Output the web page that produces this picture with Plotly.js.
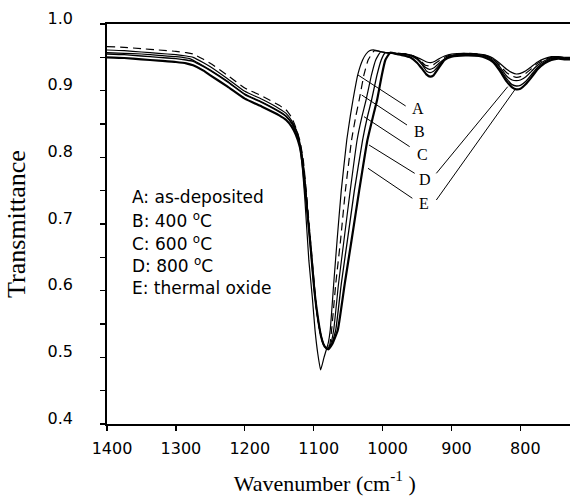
<!DOCTYPE html>
<html>
<head>
<meta charset="utf-8">
<script src="https://cdn.plot.ly/plotly-3.0.1.min.js"></script>
<style>html,body{margin:0;padding:0;background:#fff;}#chart{width:570px;height:500px;}</style>
</head>
<body>
<div id="chart"></div>
<script>
// Wavenumber (cm^-1) and transmittance for each sample
const wnA = [1400,1375,1350,1325,1300,1280,1265,1250,1225,1200,1175,1150,1140,1130,1124,1118,1113,1107,1102,1098,1094,1090,1085,1079,1076,1071,1066,1060,1052,1047,1043,1036,1029,1024,1019,1012,1000,985,970,960,950,942,936,930,924,918,910,900,880,860,850,840,830,820,812,806,800,792,784,775,765,755,745,735,728];
const tA  = [0.957,0.956,0.955,0.953,0.951,0.948,0.940,0.931,0.914,0.895,0.883,0.869,0.862,0.849,0.838,0.800,0.740,0.645,0.590,0.540,0.505,0.481,0.500,0.521,0.541,0.610,0.676,0.750,0.826,0.861,0.886,0.924,0.946,0.955,0.960,0.961,0.958,0.956,0.955,0.953,0.950,0.946,0.943,0.942,0.944,0.948,0.952,0.955,0.956,0.955,0.953,0.949,0.941,0.932,0.927,0.925,0.926,0.930,0.936,0.943,0.948,0.951,0.951,0.950,0.950];

const wnB = [1400,1375,1350,1325,1300,1285,1275,1260,1250,1225,1200,1175,1150,1140,1132,1126,1120,1115,1110,1105,1100,1096,1092,1087,1082,1077,1074,1068,1061,1054,1045,1039,1034,1027,1021,1012,1005,995,980,965,955,945,938,932,926,918,910,900,880,860,850,840,830,820,812,806,800,792,784,775,765,755,745,735,728];
const tB  = [0.966,0.965,0.963,0.961,0.959,0.957,0.955,0.947,0.941,0.923,0.904,0.892,0.878,0.871,0.860,0.845,0.825,0.795,0.740,0.680,0.620,0.575,0.545,0.522,0.514,0.518,0.541,0.610,0.676,0.750,0.826,0.861,0.886,0.924,0.946,0.960,0.959,0.957,0.956,0.955,0.952,0.945,0.938,0.937,0.939,0.945,0.950,0.954,0.956,0.955,0.953,0.948,0.938,0.927,0.922,0.920,0.921,0.926,0.933,0.941,0.947,0.950,0.951,0.949,0.949];

const wnC = [1400,1375,1350,1325,1300,1285,1275,1260,1250,1225,1200,1175,1150,1140,1132,1126,1120,1115,1110,1105,1100,1096,1091,1086,1081,1076,1071,1064,1056,1047,1037,1030,1024,1016,1010,1003,995,980,965,955,945,938,932,926,918,910,900,880,860,850,840,830,820,812,806,800,792,784,775,765,755,745,735,728];
const tC  = [0.961,0.960,0.958,0.956,0.954,0.952,0.950,0.942,0.936,0.918,0.899,0.887,0.873,0.866,0.855,0.842,0.822,0.790,0.735,0.675,0.615,0.572,0.540,0.520,0.512,0.518,0.541,0.610,0.676,0.750,0.826,0.861,0.886,0.924,0.946,0.958,0.957,0.956,0.955,0.952,0.944,0.935,0.932,0.934,0.941,0.948,0.953,0.955,0.954,0.952,0.947,0.936,0.922,0.916,0.915,0.916,0.921,0.929,0.938,0.945,0.949,0.950,0.948,0.948];

const wnD = [1400,1375,1350,1325,1300,1285,1275,1260,1250,1225,1200,1175,1150,1140,1132,1126,1120,1115,1110,1105,1100,1095,1090,1085,1080,1074,1068,1060,1051,1041,1029,1022,1016,1008,1002,996,985,970,960,950,942,936,931,926,918,910,900,880,860,850,840,830,820,812,806,800,792,784,775,765,755,745,735,728];
const tD  = [0.955,0.954,0.952,0.950,0.948,0.946,0.944,0.936,0.930,0.913,0.894,0.882,0.868,0.861,0.851,0.838,0.818,0.785,0.730,0.670,0.610,0.565,0.535,0.518,0.513,0.520,0.541,0.610,0.676,0.750,0.826,0.861,0.886,0.924,0.946,0.957,0.956,0.955,0.953,0.947,0.938,0.929,0.927,0.929,0.938,0.947,0.952,0.954,0.953,0.951,0.945,0.933,0.918,0.909,0.907,0.908,0.914,0.924,0.935,0.943,0.948,0.949,0.948,0.948];

const wnE = [1400,1375,1350,1325,1300,1285,1275,1260,1250,1225,1200,1175,1150,1140,1132,1126,1120,1115,1110,1104,1099,1094,1089,1084,1079,1073,1065,1055,1045,1034,1022,1014,1008,1001,996,989,980,970,960,950,942,936,931,926,918,910,900,880,860,850,840,830,820,812,806,800,792,784,775,765,755,745,735,728];
const tE  = [0.950,0.949,0.947,0.945,0.943,0.941,0.938,0.930,0.923,0.906,0.888,0.876,0.863,0.856,0.846,0.834,0.815,0.780,0.725,0.660,0.600,0.560,0.530,0.516,0.512,0.520,0.541,0.610,0.676,0.750,0.826,0.861,0.886,0.924,0.946,0.957,0.955,0.953,0.950,0.942,0.932,0.924,0.921,0.923,0.935,0.946,0.951,0.953,0.952,0.949,0.943,0.930,0.914,0.905,0.902,0.903,0.910,0.920,0.932,0.941,0.946,0.948,0.947,0.947];

const seriesLetters = ['A','B','C','D','E'];
const legendLines = ['A: as-deposited','B: 400 <sup>o</sup>C','C: 600 <sup>o</sup>C','D: 800 <sup>o</sup>C','E: thermal oxide'];
const xTickVals = [1400,1300,1200,1100,1000,900,800];
const yTickVals = [0.4,0.5,0.6,0.7,0.8,0.9,1.0];
const yTickText = ['0.4','0.5','0.6','0.7','0.8','0.9','1.0'];

// leader line anchor points (curve point -> label end), in data units
const leaderStartX = [1035.7,1030.3,1027.0,1019.7,1021.2,818.4,808.3];
const leaderStartY = [0.9235,0.8935,0.861,0.8185,0.7836,0.906,0.901];
const leaderEndX   = [966.5,964.6,960.7,953.4,956.8,922,922];
const leaderEndY   = [0.877,0.8485,0.816,0.776,0.7386,0.776,0.736];
const letterX = [948.6,946,942.3,938,940.4];
const letterY = [0.8736,0.8395,0.805,0.7675,0.731];

const curves = [
  {x: wnA, y: tA, dash: 'solid', w: 1.2},
  {x: wnB, y: tB, dash: '8px,5px', w: 1.2},
  {x: wnC, y: tC, dash: 'solid', w: 1.2},
  {x: wnD, y: tD, dash: 'solid', w: 1.3},
  {x: wnE, y: tE, dash: 'solid', w: 2.2}
];

const traces = curves.map((c, i) => ({
  type: 'scatter', mode: 'lines', x: c.x, y: c.y, name: seriesLetters[i],
  line: {color: '#000', width: c.w, dash: c.dash, shape: 'spline', smoothing: 0.4},
  hoverinfo: 'skip'
}));

const shapes = leaderStartX.map((x0, i) => ({
  type: 'line', xref: 'x', yref: 'y', x0: x0, y0: leaderStartY[i], x1: leaderEndX[i], y1: leaderEndY[i],
  line: {color: '#000', width: 1}
}));

const annotations = [];
seriesLetters.forEach((L, i) => annotations.push({
  xref: 'x', yref: 'y', x: letterX[i], y: letterY[i], text: L, showarrow: false,
  font: {family: 'Liberation Serif, Times New Roman, serif', size: 16, color: '#000'},
  xanchor: 'center', yanchor: 'middle'
}));
legendLines.forEach((t, i) => annotations.push({
  xref: 'paper', yref: 'paper', x: (130 - 107) / 463, y: 1 - (197 - 24 + i * 22.8) / 400,
  text: t, showarrow: false, xanchor: 'left', yanchor: 'middle', align: 'left',
  font: {family: 'DejaVu Sans, sans-serif', size: 17, color: '#000'}
}));

const layout = {
  width: 570, height: 500,
  margin: {l: 107, r: 0, t: 24, b: 76},
  paper_bgcolor: '#fff', plot_bgcolor: '#fff',
  showlegend: false,
  xaxis: {
    range: [1400, 728], tickvals: xTickVals, ticks: 'outside', ticklen: 5, tickwidth: 1.3, tickcolor: '#000',
    showline: true, linecolor: '#000', linewidth: 1.8, mirror: true, showgrid: false, zeroline: false,
    ticklabelstandoff: 4, ticklabelshift: -5,
    tickfont: {family: 'DejaVu Sans, sans-serif', size: 16, color: '#000'},
    title: {text: 'Wavenumber (cm<sup>-1</sup> )&nbsp;&nbsp;&nbsp;&nbsp;&nbsp;', standoff: 18,
      font: {family: 'Liberation Serif, Times New Roman, serif', size: 22, color: '#000'}}
  },
  yaxis: {
    range: [0.4, 1.0], tickvals: yTickVals, ticktext: yTickText, ticks: 'outside', ticklen: 5, tickwidth: 1.3, tickcolor: '#000',
    minor: {dtick: 0.05, tick0: 0.4, ticks: 'outside', ticklen: 5, tickwidth: 1.3, tickcolor: '#000', showgrid: false},
    showline: true, linecolor: '#000', linewidth: 1.8, mirror: false, showgrid: false, zeroline: false,
    ticklabelstandoff: 24, ticklabelshift: -6,
    tickfont: {family: 'DejaVu Sans, sans-serif', size: 16, color: '#000'},
    title: {text: 'Transmittance', standoff: 14,
      font: {family: 'Liberation Serif, Times New Roman, serif', size: 26, color: '#000'}}
  },
  shapes: shapes,
  annotations: annotations
};

Plotly.newPlot('chart', traces, layout, {staticPlot: true, displayModeBar: false});
</script>
</body>
</html>
